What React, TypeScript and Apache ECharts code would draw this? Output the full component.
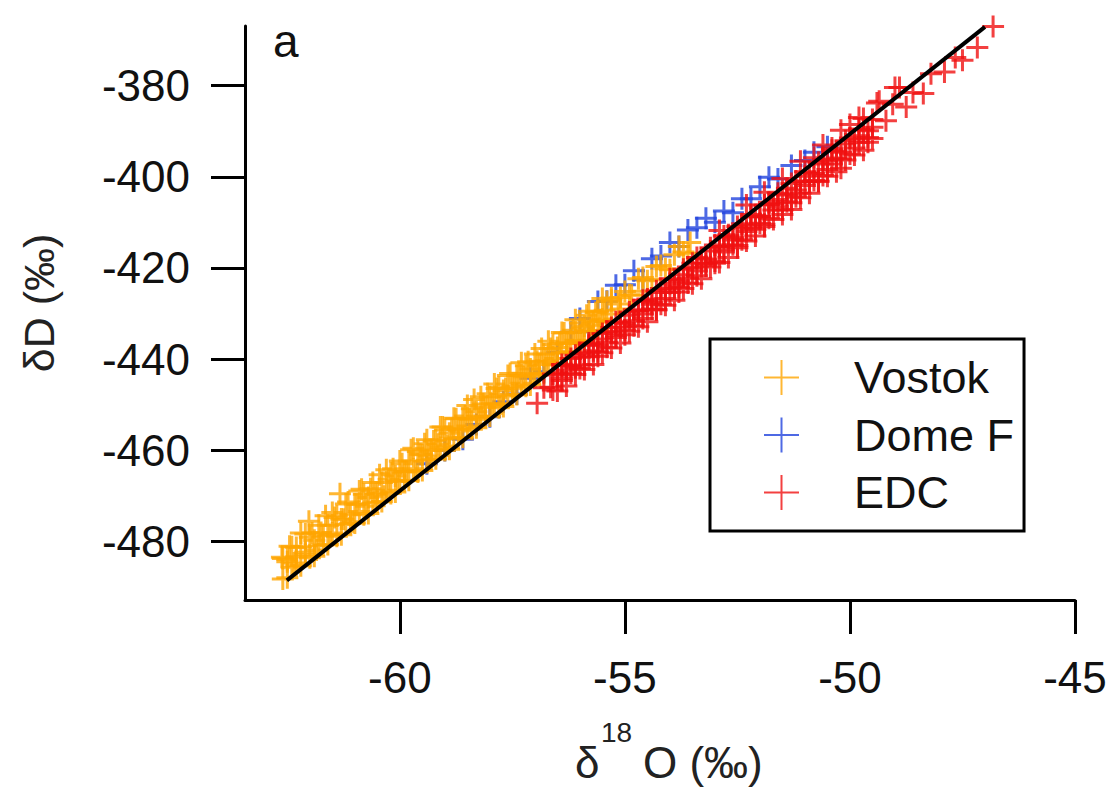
import React, { useEffect, useRef } from "react";
import * as echarts from "echarts";

const xTicks = [-60, -55, -50, -45];
const yTicks = [-480, -460, -440, -420, -400, -380];
const xRange = [-63.44, -45];
const yRange = [-492.9, -366.9];

const vostok: number[][] = [
  [-62.62, -483.5], [-62.5, -484.0], [-62.45, -481.1], [-62.35, -484.8], [-62.3, -481.4],
  [-62.2, -478.2], [-62.1, -482.4], [-62.02, -475.6], [-61.95, -478.2], [-61.85, -481.9],
  [-61.75, -478.1], [-61.65, -474.4], [-61.55, -478.6], [-61.45, -474.8], [-61.33, -469.6],
  [-61.25, -475.2], [-61.15, -471.4], [-61.05, -475.7], [-60.95, -471.9], [-60.85, -468.6],
  [-60.75, -472.3], [-60.65, -468.5], [-60.55, -469.7], [-60.45, -465.4], [-60.35, -470.1],
  [-60.25, -466.4], [-60.15, -464.1], [-60.05, -466.8], [-59.95, -463.0], [-59.85, -464.7],
  [-59.75, -459.9], [-59.65, -464.6], [-59.55, -460.9], [-59.45, -458.6], [-59.35, -461.3],
  [-59.25, -458.0], [-59.15, -458.7], [-59.05, -454.9], [-58.95, -459.1], [-58.85, -455.4],
  [-58.75, -453.1], [-58.65, -455.8], [-58.55, -452.5], [-58.45, -453.2], [-58.35, -448.9],
  [-58.25, -453.2], [-58.15, -449.9], [-58.05, -447.6], [-57.95, -449.8], [-57.85, -446.5],
  [-57.75, -449.8], [-57.65, -446.5], [-57.55, -443.2], [-57.45, -446.4], [-57.35, -443.1],
  [-57.25, -443.9], [-57.15, -440.6], [-57.05, -443.8], [-56.95, -440.5], [-56.85, -437.7],
  [-56.75, -440.4], [-56.65, -437.7], [-56.55, -439.9], [-56.45, -436.6], [-56.35, -434.3],
  [-56.25, -436.5], [-56.15, -433.7], [-56.05, -436.0], [-55.95, -433.2], [-55.85, -430.4],
  [-55.75, -432.6], [-55.65, -429.8], [-55.55, -431.5], [-55.45, -429.3], [-55.3, -426.6],
  [-55.15, -427.9], [-55.0, -425.2], [-54.85, -426.0], [-54.7, -422.4], [-54.5, -422.8],
  [-54.3, -419.7], [-54.1, -420.2], [-53.9, -417.1], [-53.7, -416.5], [-53.55, -414.4],
  [-62.6, -488.3], [-62.6, -483.8], [-62.5, -488.0], [-62.5, -484.5], [-62.4, -485.7], [-62.4, -481.2],
  [-62.3, -485.4], [-62.3, -483.4], [-62.2, -485.4], [-62.2, -481.2], [-62.1, -482.9], [-62.1, -478.4],
  [-62.0, -483.6], [-62.0, -479.1], [-61.9, -483.3], [-61.9, -479.8], [-61.8, -481.0], [-61.8, -476.5],
  [-61.7, -480.8], [-61.7, -478.8], [-61.6, -480.7], [-61.6, -476.5], [-61.5, -478.2], [-61.5, -473.7],
  [-61.4, -478.9], [-61.4, -474.4], [-61.3, -478.6], [-61.3, -475.1], [-61.2, -476.3], [-61.2, -471.8],
  [-61.1, -476.1], [-61.1, -474.1], [-61.0, -476.0], [-61.0, -471.8], [-60.9, -473.5], [-60.9, -469.0],
  [-60.8, -474.2], [-60.8, -469.7], [-60.7, -473.9], [-60.7, -470.4], [-60.6, -471.6], [-60.6, -467.1],
  [-60.5, -471.4], [-60.5, -469.4], [-60.4, -471.3], [-60.4, -467.1], [-60.3, -468.8], [-60.3, -464.3],
  [-60.2, -469.5], [-60.2, -465.0], [-60.1, -469.2], [-60.1, -465.7], [-60.0, -466.9], [-60.0, -462.4],
  [-59.9, -466.7], [-59.9, -464.7], [-59.8, -466.6], [-59.8, -462.4], [-59.7, -464.1], [-59.7, -459.6],
  [-59.6, -464.8], [-59.6, -460.3], [-59.5, -464.5], [-59.5, -461.0], [-59.4, -462.2], [-59.4, -457.7],
  [-59.3, -462.0], [-59.3, -460.0], [-59.2, -461.9], [-59.2, -457.7], [-59.1, -459.4], [-59.1, -454.9],
  [-59.0, -460.1], [-59.0, -455.6], [-58.9, -459.8], [-58.9, -456.3], [-58.8, -457.5], [-58.8, -453.0],
  [-58.7, -457.3], [-58.7, -455.3], [-58.6, -457.2], [-58.6, -453.0], [-58.5, -454.7], [-58.5, -450.2],
  [-58.4, -455.4], [-58.4, -450.9], [-58.3, -455.1], [-58.3, -451.6], [-58.2, -452.8], [-58.2, -448.3],
  [-58.1, -452.6], [-58.1, -450.6], [-58.0, -452.5], [-58.0, -448.3], [-57.9, -450.0], [-57.9, -445.5],
  [-57.8, -450.7], [-57.8, -446.2], [-57.7, -450.4], [-57.7, -446.9], [-57.6, -448.1], [-57.6, -443.6],
  [-57.5, -447.9], [-57.5, -445.9], [-57.4, -447.8], [-57.4, -443.6], [-57.3, -445.3], [-57.3, -440.8],
  [-57.2, -446.0], [-57.2, -441.5], [-57.1, -445.7], [-57.1, -442.2], [-57.0, -443.4], [-57.0, -438.9],
  [-56.9, -443.2], [-56.9, -441.2], [-56.8, -443.1], [-56.8, -438.9], [-56.7, -440.6], [-56.7, -436.1],
  [-56.6, -441.3], [-56.6, -436.8], [-56.5, -441.0], [-56.5, -437.5], [-56.4, -438.7], [-56.4, -434.2],
  [-56.3, -438.5], [-56.3, -436.5], [-56.2, -438.4], [-56.2, -434.2], [-56.1, -435.9], [-56.1, -431.4],
  [-56.0, -436.6], [-56.0, -432.1], [-55.9, -436.3], [-55.9, -432.8], [-55.8, -434.0], [-55.8, -429.5],
  [-55.7, -433.8], [-55.7, -431.8], [-55.6, -433.7], [-55.6, -429.5], [-55.5, -431.2], [-55.5, -426.7],
  [-55.4, -431.9], [-55.4, -427.4],
  [-55.3, -430.1], [-55.3, -427.1], [-55.1, -429.0], [-55.1, -426.5], [-54.9, -425.9], [-54.6, -425.1],
  [-54.6, -422.1], [-54.4, -422.5], [-54.2, -419.5], [-54.0, -420.4], [-53.8, -415.3], [-53.6, -416.8],
];

const domeF: number[][] = [
  [-59.4, -463.0], [-59.0, -460.1], [-58.6, -457.6], [-58.3, -454.4], [-58.0, -452.7],
  [-57.7, -449.4], [-57.4, -447.7], [-57.1, -444.2], [-56.8, -442.8], [-56.5, -438.5],
  [-56.2, -434.1], [-56.0, -431.1], [-55.8, -434.0], [-55.6, -427.4], [-55.4, -427.3],
  [-55.2, -423.8], [-55.0, -423.7], [-54.8, -420.6], [-54.6, -422.6], [-54.4, -418.0],
  [-54.2, -417.4], [-54.0, -414.4], [-53.8, -415.3], [-53.6, -411.7], [-53.4, -411.2],
  [-53.2, -409.1], [-53.0, -410.0], [-52.8, -407.5], [-52.6, -407.9], [-52.4, -404.8],
  [-52.2, -404.8], [-52.0, -402.2], [-51.8, -400.1], [-51.6, -400.5], [-51.3, -397.5],
  [-51.0, -396.4], [-50.8, -394.6], [-50.5, -393.4],
];

const edc: number[][] = [
  [-56.95, -449.7], [-56.8, -446.3], [-56.65, -446.2], [-56.5, -443.0], [-56.4, -444.7],
  [-56.3, -442.4], [-56.2, -439.9], [-56.1, -441.9], [-56.0, -439.6], [-55.9, -441.3],
  [-55.8, -437.0], [-55.7, -438.2], [-55.6, -439.4], [-55.5, -435.6], [-55.4, -436.3],
  [-55.3, -433.1], [-55.2, -435.3], [-55.1, -433.0], [-55.0, -434.7], [-54.9, -430.4],
  [-54.8, -431.6], [-54.7, -429.4], [-54.6, -431.1], [-54.5, -426.8], [-54.4, -428.0],
  [-54.3, -429.2], [-54.2, -425.4], [-54.1, -426.7], [-54.0, -423.4], [-53.9, -424.1],
  [-53.8, -425.3], [-53.7, -421.5], [-53.6, -422.2], [-53.5, -419.0], [-53.4, -421.7],
  [-53.3, -418.9], [-53.2, -419.1], [-53.1, -416.3], [-53.0, -419.0], [-52.9, -415.3],
  [-52.8, -416.5], [-52.7, -412.7], [-52.6, -413.9], [-52.5, -415.6], [-52.4, -411.3],
  [-52.3, -412.0], [-52.2, -408.8], [-52.1, -411.5], [-52.0, -408.7], [-51.9, -410.9],
  [-51.8, -406.1], [-51.7, -407.3], [-51.6, -405.0], [-51.5, -407.3], [-51.4, -402.5],
  [-51.3, -407.2], [-51.2, -402.9], [-51.1, -403.6], [-51.0, -399.9], [-50.9, -401.1],
  [-50.8, -395.8], [-50.7, -401.0], [-50.6, -397.2], [-50.5, -398.4], [-50.4, -393.7],
  [-50.3, -395.9], [-50.2, -398.1], [-50.1, -392.8], [-50.0, -388.5], [-49.9, -393.7],
  [-49.8, -391.0], [-49.7, -387.2], [-49.6, -392.4], [-49.5, -389.1], [-49.35, -383.4],
  [-49.2, -387.7], [-49.05, -384.1], [-48.9, -380.4], [-48.75, -384.7], [-48.6, -381.5],
  [-48.37, -381.7], [-48.2, -377.4], [-47.9, -377.0], [-47.66, -373.8], [-47.5, -374.4],
  [-47.17, -371.6], [-46.82, -367.0],
  [-56.6, -443.3], [-56.6, -446.8], [-56.5, -443.5], [-56.5, -447.0], [-56.4, -441.2], [-56.4, -444.2],
  [-56.3, -441.4], [-56.3, -445.9], [-56.2, -441.6], [-56.2, -443.1], [-56.1, -439.2], [-56.1, -443.4],
  [-56.0, -438.6], [-56.0, -442.1], [-55.9, -438.8], [-55.9, -442.3], [-55.8, -436.5], [-55.8, -439.5],
  [-55.7, -436.7], [-55.7, -441.2], [-55.6, -436.9], [-55.6, -438.4], [-55.5, -434.4], [-55.5, -438.6],
  [-55.4, -433.9], [-55.4, -437.4], [-55.3, -434.1], [-55.3, -437.6], [-55.2, -431.8], [-55.2, -434.8],
  [-55.1, -432.0], [-55.1, -436.5], [-55.0, -432.2], [-55.0, -433.7], [-54.9, -429.7], [-54.9, -433.9],
  [-54.8, -429.2], [-54.8, -432.7], [-54.7, -429.4], [-54.7, -432.9], [-54.6, -427.1], [-54.6, -430.1],
  [-54.5, -427.3], [-54.5, -431.8], [-54.4, -427.5], [-54.4, -429.0], [-54.3, -425.0], [-54.3, -429.2],
  [-54.2, -424.5], [-54.2, -428.0], [-54.1, -424.7], [-54.1, -428.2], [-54.0, -422.4], [-54.0, -425.4],
  [-53.9, -422.6], [-53.9, -427.1], [-53.8, -422.8], [-53.8, -424.3], [-53.7, -420.3], [-53.7, -424.5],
  [-53.6, -419.8], [-53.6, -423.3], [-53.5, -420.0], [-53.5, -423.5], [-53.4, -417.7], [-53.4, -420.7],
  [-53.3, -417.9], [-53.3, -422.4], [-53.2, -418.1], [-53.2, -419.6], [-53.1, -415.6], [-53.1, -419.8],
  [-53.0, -415.0], [-53.0, -418.5], [-52.9, -415.3], [-52.9, -418.8], [-52.8, -413.0], [-52.8, -416.0],
  [-52.7, -413.2], [-52.7, -417.7], [-52.6, -413.4], [-52.6, -414.9], [-52.5, -410.9], [-52.5, -415.1],
  [-52.4, -410.3], [-52.4, -413.8], [-52.3, -410.6], [-52.3, -414.1], [-52.2, -408.3], [-52.2, -411.3],
  [-52.1, -408.5], [-52.1, -413.0], [-52.0, -408.7], [-52.0, -410.2], [-51.9, -406.2], [-51.9, -410.4],
  [-51.8, -405.6], [-51.8, -409.1], [-51.7, -405.9], [-51.7, -409.4], [-51.6, -403.6], [-51.6, -406.6],
  [-51.5, -403.8], [-51.5, -408.3], [-51.4, -404.0], [-51.4, -405.5], [-51.3, -401.5], [-51.3, -405.7],
  [-51.2, -400.9], [-51.2, -404.4], [-51.1, -401.1], [-51.1, -404.6], [-51.0, -398.9], [-51.0, -401.9],
  [-50.9, -399.1], [-50.9, -403.6], [-50.8, -399.3], [-50.8, -400.8], [-50.7, -396.8], [-50.7, -401.0],
  [-50.6, -396.2], [-50.6, -399.7], [-50.5, -396.4], [-50.5, -399.9], [-50.4, -394.2], [-50.4, -397.2],
  [-50.3, -394.4], [-50.3, -398.9], [-50.2, -394.6], [-50.2, -396.1], [-50.1, -392.1], [-50.1, -396.3],
  [-50.0, -391.5], [-50.0, -395.0], [-49.9, -391.7], [-49.9, -395.2], [-49.8, -389.5], [-49.8, -392.5],
  [-49.7, -389.7], [-49.7, -394.2], [-49.6, -389.9], [-49.6, -391.4], [-49.5, -387.4], [-49.5, -391.6],
  [-52.9, -411.8], [-52.3, -406.2], [-51.9, -403.4], [-51.5, -400.4], [-51.1, -396.6],
  [-50.6, -393.0], [-50.2, -389.8], [-49.8, -387.0], [-49.4, -383.8], [-49.0, -380.4],
];

const fitLine: number[][] = [
  [-62.51, -488.6],
  [-47.0, -367.1],
];

const seriesNames = ["Vostok", "Dome F", "EDC"];
const colors: Record<string, string> = {
  Vostok: "#FFA500",
  "Dome F": "#2244DD",
  EDC: "#F01010",
};

const PLUS = "path://M0,11H22M11,0V22";
const FONT = "'Liberation Sans', Arial, sans-serif";

export default function App() {
  const ref = useRef<HTMLDivElement>(null);

  useEffect(() => {
    if (!ref.current) return;
    const chart = echarts.init(ref.current, null, { renderer: "svg" });

    const scatter = (name: string, data: number[][], z: number) => ({
      name,
      type: "scatter",
      data,
      symbol: PLUS,
      symbolSize: 22,
      z,
      itemStyle: { color: colors[name], borderColor: colors[name], borderWidth: 3 },
      emphasis: { disabled: true },
    });

    const axisCommon = {
      type: "value",
      axisLine: { show: true, onZero: false, lineStyle: { color: "#000", width: 3 } },
      axisTick: { show: true, length: 34, lineStyle: { color: "#000", width: 3 } },
      splitLine: { show: false },
    };

    chart.setOption({
      animation: false,
      backgroundColor: "#fff",
      grid: { left: 245, right: 43, top: 26, bottom: 190, outerBoundsMode: "none" },
      xAxis: {
        ...axisCommon,
        min: xRange[0],
        max: xRange[1],
        axisTick: { ...axisCommon.axisTick, customValues: xTicks },
        axisLabel: {
          customValues: xTicks,
          margin: 55,
          fontSize: 44,
          fontFamily: FONT,
          color: "#111",
        },
      },
      yAxis: {
        ...axisCommon,
        min: yRange[0],
        max: yRange[1],
        axisTick: { ...axisCommon.axisTick, customValues: yTicks },
        axisLabel: {
          customValues: yTicks,
          margin: 55,
          fontSize: 44,
          fontFamily: FONT,
          color: "#111",
        },
      },
      legend: {
        data: seriesNames,
        orient: "vertical",
        left: 710,
        top: 339,
        padding: [16, 10, 16, 53],
        itemGap: 12.5,
        itemWidth: 35,
        itemHeight: 35,
        borderColor: "#000",
        borderWidth: 3,
        selectedMode: false,
        itemStyle: { borderWidth: 2 },
        textStyle: {
          fontSize: 45,
          lineHeight: 45,
          fontFamily: FONT,
          color: "#111",
          padding: [0, 0, 0, 50],
        },
      },
      series: [
        scatter("Dome F", domeF, 2),
        scatter("Vostok", vostok, 3),
        scatter("EDC", edc, 4),
        {
          name: "fit",
          type: "line",
          data: fitLine,
          showSymbol: false,
          symbol: "none",
          z: 5,
          lineStyle: { color: "#000", width: 4 },
          emphasis: { disabled: true },
        },
      ],
      graphic: [
        {
          type: "text",
          x: 273,
          y: 41,
          style: { text: "a", fontSize: 46, fontFamily: FONT, fill: "#111", align: "left", verticalAlign: "middle" },
        },
        {
          type: "text",
          x: 39,
          y: 303,
          rotation: Math.PI / 2,
          style: { text: "δD (‰)", fontSize: 43, fontFamily: FONT, fill: "#222", align: "center", verticalAlign: "middle" },
        },
        {
          type: "group",
          children: [
            {
              type: "text",
              x: 575,
              y: 762,
              style: { text: "δ", fontSize: 44, fontFamily: FONT, fill: "#222", align: "left", verticalAlign: "middle" },
            },
            {
              type: "text",
              x: 601,
              y: 732,
              style: { text: "18", fontSize: 28, fontFamily: FONT, fill: "#222", align: "left", verticalAlign: "middle" },
            },
            {
              type: "text",
              x: 643,
              y: 762,
              style: { text: "O (‰)", fontSize: 44, fontFamily: FONT, fill: "#222", align: "left", verticalAlign: "middle" },
            },
          ],
        },
      ],
    });

    return () => chart.dispose();
  }, []);

  return (
    <div
      ref={ref}
      style={{ position: "fixed", left: 0, top: 0, width: 1118, height: 790, background: "#fff" }}
    />
  );
}
